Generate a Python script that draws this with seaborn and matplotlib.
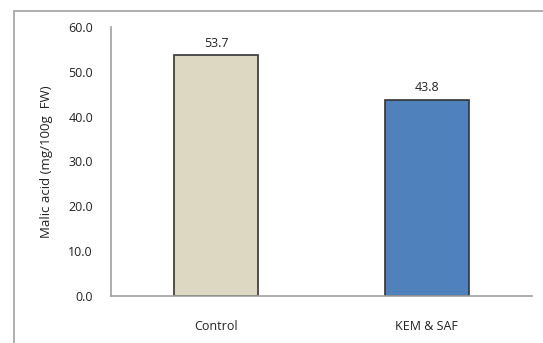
import matplotlib
matplotlib.use("Agg")
import matplotlib.pyplot as plt
import seaborn as sns
import pandas as pd
from matplotlib.lines import Line2D

categories = ["Control", "KEM & SAF"]
values = [53.7, 43.8]
colors = ["#DDD8C2", "#4F81BD"]
yticks = [0, 10, 20, 30, 40, 50, 60]

sns.set_style("white")
plt.rcParams['font.family'] = ['Open Sans', 'DejaVu Sans']

W, H = 543, 343
fig = plt.figure(figsize=(W / 100, H / 100), dpi=100)
ax = fig.add_axes([111 / W, (H - 296) / H, 421 / W, 269 / H])

df = pd.DataFrame({"cat": categories, "val": values})
sns.barplot(data=df, x="cat", y="val", hue="cat", palette=colors, legend=False,
            width=0.4, saturation=1, edgecolor="#333333", linewidth=1.2, ax=ax)

ax.set_ylim(0, 60)
ax.set_yticks(yticks)
ax.set_yticklabels([f"{v:.1f}" for v in yticks], fontsize=9, color="#222222")
ax.set_xlim(-0.5, 1.5)
ax.tick_params(axis="y", length=0, pad=13)
ax.tick_params(axis="x", length=0, pad=17, labelsize=9, labelcolor="#222222")
ax.set_xlabel("")
ax.set_ylabel("Malic acid (mg/100g  FW)", fontsize=9.5, color="#222222", labelpad=11)

for s in ["top", "right"]:
    ax.spines[s].set_visible(False)
for s in ["left", "bottom"]:
    ax.spines[s].set_color("#A0A0A0")
    ax.spines[s].set_linewidth(1.2)

for i, v in enumerate(values):
    ax.annotate(f"{v:.1f}", (i, v), xytext=(0, 4), textcoords="offset points",
                ha="center", va="bottom", fontsize=9, color="#222222")

# outer chart border (left and top)
fig.add_artist(Line2D([13.5 / W, 13.5 / W], [0, 1 - 11 / H], transform=fig.transFigure,
                      color="#A8A8A8", lw=1.3))
fig.add_artist(Line2D([13.5 / W, 1], [1 - 11 / H, 1 - 11 / H], transform=fig.transFigure,
                      color="#A8A8A8", lw=1.3))

fig.savefig("out.png", dpi=100)
